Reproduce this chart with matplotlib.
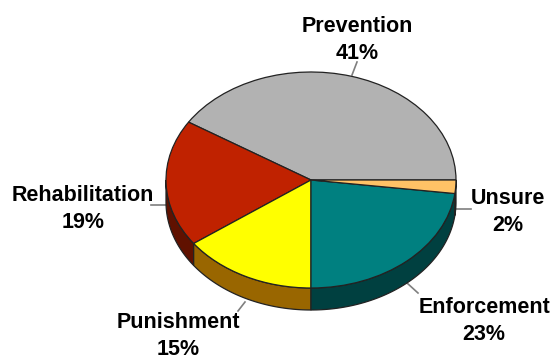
import numpy as np
import matplotlib
matplotlib.use("Agg")
import matplotlib.pyplot as plt

plt.rcParams["font.family"] = ["Liberation Sans", "DejaVu Sans"]

# counter-clockwise from 3 o'clock
LABELS = ["Prevention", "Rehabilitation", "Punishment", "Enforcement", "Unsure"]
VALUES = [41, 19, 15, 23, 2]
TOP_COLORS = ["#b2b2b2", "#c02200", "#ffff00", "#008080", "#ffc266"]
SIDE_COLORS = ["#595959", "#601100", "#996600", "#004040", "#806133"]

W, H = 552, 359
CX, CY, RX, RY, DEPTH = 311, 180, 145, 108, 22
EDGE = "#222222"

# label centres and leader lines, in pixels
LABEL_POS = [(357, 40), (83, 209), (178, 336), (484, 321), (508, 212)]
LEADERS = [((352, 75), (357, 62)), ((151, 205), (166, 205)), ((238, 311), (245, 302)),
           ((407, 283), (418, 293)), ((456, 209), (471, 209))]


def px(x, y):
    return (x - CX) / RX, (CY - y) / RY


fig = plt.figure(figsize=(W / 100, H / 100), dpi=100, facecolor="white")
ax = fig.add_axes([0, 0, 1, 1])

ax.pie(VALUES, colors=TOP_COLORS, startangle=0, counterclock=True, radius=1,
       wedgeprops={"edgecolor": EDGE, "linewidth": 0.9, "zorder": 3})
ax.set_aspect("auto")
ax.set_xlim(px(0, 0)[0], px(W, 0)[0])
ax.set_ylim(px(0, H)[1], px(0, 0)[1])
ax.axis("off")

# side wall, only the front half of the disc shows
depth = DEPTH / RY
edges = np.cumsum([0] + VALUES) / sum(VALUES) * 360
for a0, a1, col in zip(edges[:-1], edges[1:], SIDE_COLORS):
    lo, hi = max(a0, 180), min(a1, 360)
    if hi <= lo:
        continue
    t = np.radians(np.linspace(lo, hi, 80))
    xs = np.r_[np.cos(t), np.cos(t)[::-1]]
    ys = np.r_[np.sin(t), np.sin(t)[::-1] - depth]
    ax.fill(xs, ys, facecolor=col, edgecolor=EDGE, linewidth=0.9, zorder=2)

for (p0, p1) in LEADERS:
    a, b = px(*p0), px(*p1)
    ax.plot([a[0], b[0]], [a[1], b[1]], color="#7f7f7f", lw=1.2, zorder=1)

for name, val, pos in zip(LABELS, VALUES, LABEL_POS):
    x, y = px(*pos)
    ax.text(x, y, f"{name}\n{val}%", ha="center", va="center", fontsize=15.5,
            fontweight="bold", color="black", linespacing=1.42)

fig.savefig("out.png", dpi=100, facecolor="white")
